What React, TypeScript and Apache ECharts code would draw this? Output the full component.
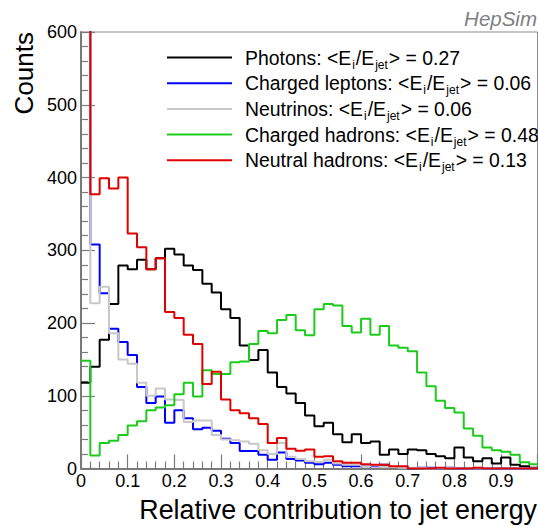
import React, { useEffect, useRef } from "react";
import * as echarts from "echarts";

// Histogram: 50 bins of width 0.02 on [0, 1]
const BIN_WIDTH = 0.02;

const seriesNames = ["Photons", "Charged leptons", "Neutrinos", "Charged hadrons", "Neutral hadrons"];
const meanFractions = ["0.27", "0.06", "0.06", "0.48", "0.13"];
const seriesColors = ["#000000", "#0000ff", "#c8c8c8", "#1ccc1c", "#e00000"];

const photons = [118, 140, 177, 226, 279, 274, 287, 274, 289, 302, 294, 279, 273, 254, 242, 219, 207, 169, 149, 163, 132, 112, 103, 90, 73, 58, 63, 47, 36, 47, 35, 37, 19, 26, 20, 26, 25, 20, 17, 14, 29, 15, 10, 14, 7, 15, 5, 3, 1, 0];
const chargedLeptons = [3500, 308, 241, 192, 174, 156, 112, 90, 99, 63, 80, 69, 54, 56, 52, 41, 35, 24, 24, 19, 12, 22, 13, 11, 8, 6, 8, 5, 3, 3, 3, 3, 5, 2, 2, 0, 1, 1, 0, 1, 0, 0, 0, 0, 0, 0, 0, 0, 0, 0];
const neutrinos = [3700, 227, 250, 186, 150, 144, 118, 100, 110, 95, 94, 64, 66, 66, 46, 40, 39, 37, 34, 25, 20, 35, 16, 13, 10, 9, 12, 7, 5, 5, 3, 4, 2, 2, 1, 1, 1, 0, 0, 1, 0, 0, 0, 0, 0, 0, 0, 0, 0, 0];
const chargedHadrons = [148, 18, 35, 38, 46, 59, 65, 80, 84, 87, 102, 118, 99, 135, 130, 130, 146, 147, 171, 189, 186, 204, 211, 190, 183, 219, 226, 224, 196, 187, 206, 184, 196, 169, 166, 161, 132, 113, 93, 83, 77, 55, 45, 29, 25, 23, 19, 8.5, 6, 14];
const neutralHadrons = [1200, 377, 399, 385, 400, 323, 304, 274, 289, 215, 207, 184, 171, 116, 133, 95, 80, 76, 69, 61, 35, 42, 27, 24.5, 26, 16, 17, 10, 8, 8, 6, 5, 5, 3, 3, 0, 0, 0, 1, 0, 0, 0, 1, 0, 0, 0, 0, 0, 0, 0];

const seriesValues = [photons, chargedLeptons, neutrinos, chargedHadrons, neutralHadrons];

const FONT = "'Liberation Sans', Arial, Helvetica, sans-serif";

function toSteps(values: number[]) {
  const pts: number[][] = values.map((v, i) => [+(i * BIN_WIDTH).toFixed(4), v]);
  pts.push([+(values.length * BIN_WIDTH).toFixed(4), values[values.length - 1]]);
  return pts;
}

export default function App() {
  const ref = useRef<HTMLDivElement>(null);

  useEffect(() => {
    if (!ref.current) return;
    const chart = echarts.init(ref.current, null, { renderer: "svg" });
    const axisGray = "#7a7a7a";

    const option: any = {
      animation: false,
      backgroundColor: "#ffffff",
      textStyle: { fontFamily: FONT },
      grid: {
        left: 81,
        right: 0.5,
        top: 32,
        bottom: 57.5,
        show: true,
        borderColor: "#8a8a8a",
        borderWidth: 1,
        containLabel: false,
        outerBoundsMode: "none",
      },
      legend: {
        show: true,
        orient: "vertical",
        left: 167,
        top: 48,
        padding: 0,
        itemGap: 3.2,
        itemWidth: 65,
        itemHeight: 2,
        icon: "rect",
        selectedMode: false,
        data: seriesNames,
        formatter: (name: string) => {
          const idx = seriesNames.indexOf(name);
          return `{f|${name}: <E}{s|i}{m|/E}{s|jet}{m|> = ${meanFractions[idx]}}`;
        },
        textStyle: {
          fontFamily: FONT,
          color: "#000",
          fontSize: 19.4,
          rich: {
            f: { fontFamily: FONT, fontSize: 19.4, lineHeight: 26, color: "#000", padding: [0, 0, 0, 8] },
            m: { fontFamily: FONT, fontSize: 19.4, lineHeight: 26, color: "#000" },
            s: { fontFamily: FONT, fontSize: 12, lineHeight: 12, color: "#000", verticalAlign: "bottom", padding: [0, 1, 0, 1] },
          },
        },
      },
      xAxis: {
        type: "value",
        min: 0,
        max: 0.978,
        interval: 0.1,
        axisLine: { show: true, onZero: false, lineStyle: { color: axisGray, width: 2 } },
        axisTick: { show: true, inside: true, length: 14, lineStyle: { color: axisGray, width: 1.2 } },
        minorTick: { show: true, splitNumber: 5, length: 7, lineStyle: { color: axisGray, width: 1.2 } },
        splitLine: { show: false },
        axisLabel: {
          show: true,
          margin: 3,
          fontSize: 18,
          color: "#000",
          fontFamily: FONT,
          showMaxLabel: false,
          formatter: (v: number) => (Math.abs(v - Math.round(v * 10) / 10) < 1e-6 ? String(+v.toFixed(1)) : ""),
        },
      },
      yAxis: {
        type: "value",
        min: 0,
        max: 600,
        interval: 100,
        axisLine: { show: true, onZero: false, lineStyle: { color: axisGray, width: 2 } },
        axisTick: { show: true, inside: true, length: 14, lineStyle: { color: axisGray, width: 1.2 } },
        minorTick: { show: true, splitNumber: 5, length: 7, lineStyle: { color: axisGray, width: 1.2 } },
        splitLine: { show: false },
        axisLabel: { show: true, margin: 4, fontSize: 18, color: "#000", fontFamily: FONT },
      },
      graphic: [
        {
          type: "text",
          x: 24,
          y: 32,
          rotation: Math.PI / 2,
          style: {
            text: "Counts",
            fontSize: 26,
            fontFamily: FONT,
            fill: "#000",
            align: "right",
            verticalAlign: "middle",
          },
        },
        {
          type: "text",
          x: 537,
          y: 510,
          style: {
            text: "Relative contribution to jet energy",
            fontSize: 26.8,
            fontFamily: FONT,
            fill: "#000",
            align: "right",
            verticalAlign: "middle",
          },
        },
        {
          type: "text",
          x: 537,
          y: 18.5,
          style: {
            text: "HepSim",
            fontSize: 20.5,
            fontStyle: "italic",
            fontFamily: FONT,
            fill: "#808080",
            align: "right",
            verticalAlign: "middle",
          },
        },
      ],
      series: seriesNames.map((name, i) => ({
        name,
        type: "line",
        step: "end",
        symbol: "none",
        showSymbol: false,
        clip: true,
        silent: true,
        z: 2 + i,
        color: seriesColors[i],
        itemStyle: { color: seriesColors[i] },
        lineStyle: { color: seriesColors[i], width: 2 },
        data: toSteps(seriesValues[i]),
      })),
    };

    chart.setOption(option);
    return () => chart.dispose();
  }, []);

  return (
    <div
      ref={ref}
      style={{ position: "fixed", left: 0, top: 0, width: 538, height: 526, background: "#fff" }}
    />
  );
}
